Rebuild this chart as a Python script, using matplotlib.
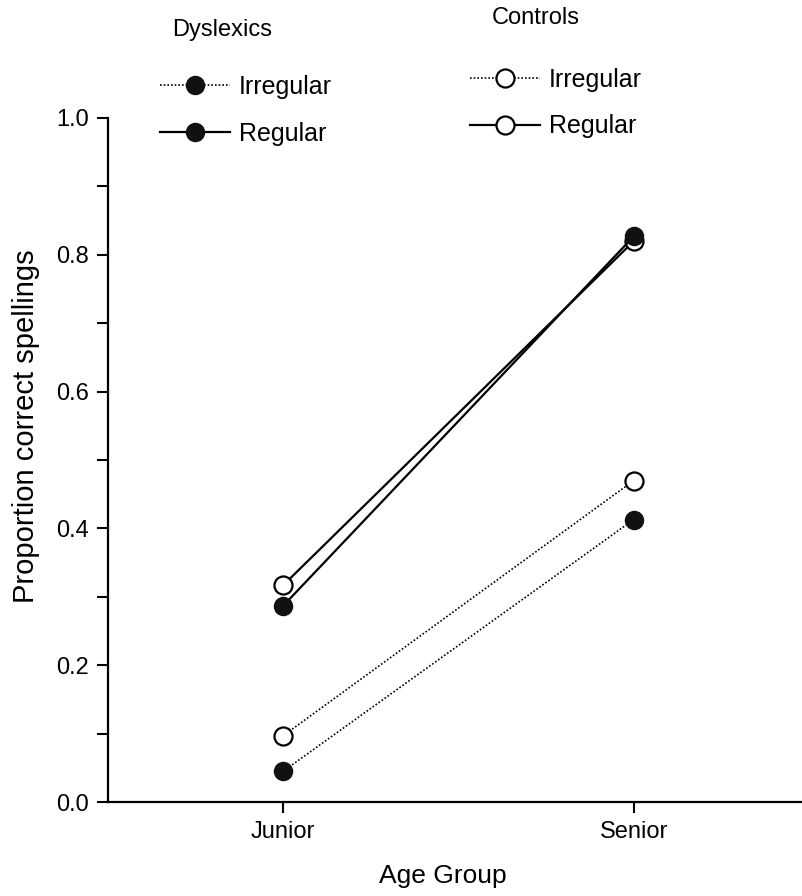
import matplotlib
matplotlib.use('Agg')
import matplotlib.pyplot as plt
from matplotlib.lines import Line2D
from matplotlib.ticker import MultipleLocator

plt.rcParams['font.family'] = ['Liberation Sans', 'DejaVu Sans']

# 数据
age_groups = ['Junior', 'Senior']
dys_irregular = [0.045, 0.413]
dys_regular = [0.287, 0.827]
ctl_irregular = [0.097, 0.470]
ctl_regular = [0.317, 0.820]

x = [1, 2]
dotted = (0, (1, 1.2))

fig = plt.figure(figsize=(8.02, 8.96), dpi=100)
ax = fig.add_axes([108 / 802, 1 - 802 / 896, 694 / 802, 684 / 896])

open_kw = dict(marker='o', markersize=13, markerfacecolor='white',
               markeredgecolor='black', markeredgewidth=1.6, color='black')
fill_kw = dict(marker='o', markersize=13, markerfacecolor='#111111',
               markeredgecolor='#111111', color='black')

# 对照组
ax.plot(x, ctl_irregular, linestyle=dotted, linewidth=1.2, **open_kw)
ax.plot(x, ctl_regular, linestyle='-', linewidth=1.6, **open_kw)
# 阅读障碍组
ax.plot(x, dys_irregular, linestyle=dotted, linewidth=1.2, **fill_kw)
ax.plot(x, dys_regular, linestyle='-', linewidth=1.6, **fill_kw)

ax.set_xlim(0.5, 2.48)
ax.set_ylim(0, 1.0)
ax.set_xticks(x)
ax.set_xticklabels(age_groups)
ax.yaxis.set_major_locator(MultipleLocator(0.2))
ax.yaxis.set_minor_locator(MultipleLocator(0.1))
ax.yaxis.set_major_formatter(plt.FuncFormatter(lambda v, p: f'{v:.1f}'))

ax.spines['top'].set_visible(False)
ax.spines['right'].set_visible(False)
for s in ('left', 'bottom'):
    ax.spines[s].set_linewidth(1.6)
ax.tick_params(axis='both', which='both', direction='out', length=8, width=1.5,
               labelsize=17, pad=6)

ax.set_xlabel('Age Group', fontsize=19)
ax.set_ylabel('Proportion correct spellings', fontsize=21)
ax.xaxis.set_label_coords(0.482, -0.09)
ax.yaxis.set_label_coords(-0.098, 0.55)

# 图例
def handles(kw):
    return [Line2D([], [], linestyle=dotted, linewidth=1.2, **kw),
            Line2D([], [], linestyle='-', linewidth=1.6, **kw)]

leg_kw = dict(frameon=False, fontsize=18, handlelength=2.8, handletextpad=0.35,
              labelspacing=0.9, borderpad=0, borderaxespad=0, loc='upper left')
fig.legend(handles(fill_kw), ['Irregular', 'Regular'],
           bbox_to_anchor=(160 / 802, 1 - 75 / 896), **leg_kw)
fig.legend(handles(open_kw), ['Irregular', 'Regular'],
           bbox_to_anchor=(470 / 802, 1 - 68 / 896), **leg_kw)
fig.text(172 / 802, 1 - 30 / 896, 'Dyslexics', fontsize=17, va='center')
fig.text(492 / 802, 1 - 18 / 896, 'Controls', fontsize=17, va='center')

plt.savefig('out.png', dpi=100, facecolor='white')
plt.close()
